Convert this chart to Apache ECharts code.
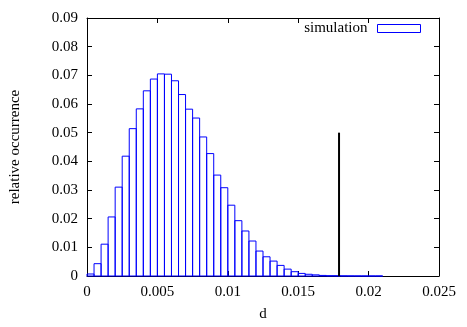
<!DOCTYPE html>
<html>
<head>
<meta charset="utf-8">
<script src="https://cdn.jsdelivr.net/npm/echarts@6/dist/echarts.min.js"></script>
<style>
  html, body { margin: 0; padding: 0; background: #fff; }
  #chart { width: 467px; height: 327px; }
</style>
</head>
<body>
<div id="chart"></div>
<script>
// histogram bins, width 0.0005, starting at 0
const binWidth = 0.0005;
const binValues = [
  0.0007, 0.0043, 0.0111, 0.0206, 0.0310, 0.0418, 0.0514, 0.0583, 0.0646, 0.0687,
  0.0705, 0.0704, 0.0681, 0.0633, 0.0582, 0.0551, 0.0485, 0.0427, 0.0352, 0.0308,
  0.0247, 0.0193, 0.0157, 0.0122, 0.0087, 0.0067, 0.0052, 0.0037, 0.0024, 0.0015,
  0.0009, 0.0006, 0.0004, 0.0002, 0.0001, 0.0001, 0.00005, 0.00003, 0.00002, 0.00001,
  0.00001, 0.00001
];
// vertical marker line
const markerX = [0.0179, 0.0179];
const markerY = [0, 0.05];

const seriesName = 'simulation';
const font = '"Liberation Serif", "DejaVu Serif", serif';
const fontSize = 15;

const histData = binValues.map((v, i) => [i * binWidth, (i + 1) * binWidth, v]);

const chart = echarts.init(document.getElementById('chart'));

const axisCommon = {
  axisLine: { show: true, onZero: false, lineStyle: { color: '#000', width: 1 } },
  axisTick: { show: true, inside: true, length: 5, lineStyle: { color: '#000' } },
  splitLine: { show: false }
};

chart.setOption({
  animation: false,
  backgroundColor: '#fff',
  grid: { left: 86, right: 28, top: 18, bottom: 50 },
  legend: {
    data: [{
      name: seriesName,
      icon: 'rect',
      itemStyle: { color: '#fff', borderColor: '#0000ff', borderWidth: 1 }
    }],
    align: 'right',
    right: 46,
    top: 21,
    padding: 0,
    itemWidth: 43,
    itemHeight: 8,
    itemGap: 10,
    textStyle: { fontFamily: font, fontSize: fontSize, color: '#000', padding: [0, 5, 0, 0] }
  },
  xAxis: [{
    type: 'value',
    min: 0,
    max: 0.025,
    interval: 0.005,
    name: 'd',
    nameLocation: 'middle',
    nameGap: 31,
    nameTextStyle: { fontFamily: font, fontSize: fontSize, color: '#000' },
    axisLabel: { fontFamily: font, fontSize: fontSize, color: '#000', margin: 9 },
    ...axisCommon
  }, {
    type: 'value',
    position: 'top',
    min: 0,
    max: 0.025,
    interval: 0.005,
    axisLabel: { show: false },
    ...axisCommon
  }],
  yAxis: [{
    type: 'value',
    min: 0,
    max: 0.09,
    interval: 0.01,
    name: 'relative occurrence',
    nameLocation: 'middle',
    nameGap: 64,
    nameTextStyle: { fontFamily: font, fontSize: fontSize, color: '#000' },
    axisLabel: { fontFamily: font, fontSize: fontSize, color: '#000', margin: 9 },
    ...axisCommon
  }, {
    type: 'value',
    position: 'right',
    min: 0,
    max: 0.09,
    interval: 0.01,
    axisLabel: { show: false },
    ...axisCommon
  }],
  series: [{
    name: seriesName,
    type: 'custom',
    xAxisIndex: 0,
    yAxisIndex: 0,
    data: histData,
    encode: { x: [0, 1], y: 2 },
    renderItem: function (params, api) {
      const p0 = api.coord([api.value(0), api.value(2)]);
      const p1 = api.coord([api.value(1), 0]);
      return {
        type: 'rect',
        shape: { x: p0[0], y: p0[1], width: p1[0] - p0[0], height: p1[1] - p0[1] },
        style: { fill: 'none', stroke: '#0000ff', lineWidth: 1 }
      };
    }
  }, {
    name: 'marker',
    type: 'line',
    xAxisIndex: 0,
    yAxisIndex: 0,
    data: markerX.map((x, i) => [x, markerY[i]]),
    symbol: 'none',
    lineStyle: { color: '#000', width: 2 }
  }]
});
</script>
</body>
</html>
